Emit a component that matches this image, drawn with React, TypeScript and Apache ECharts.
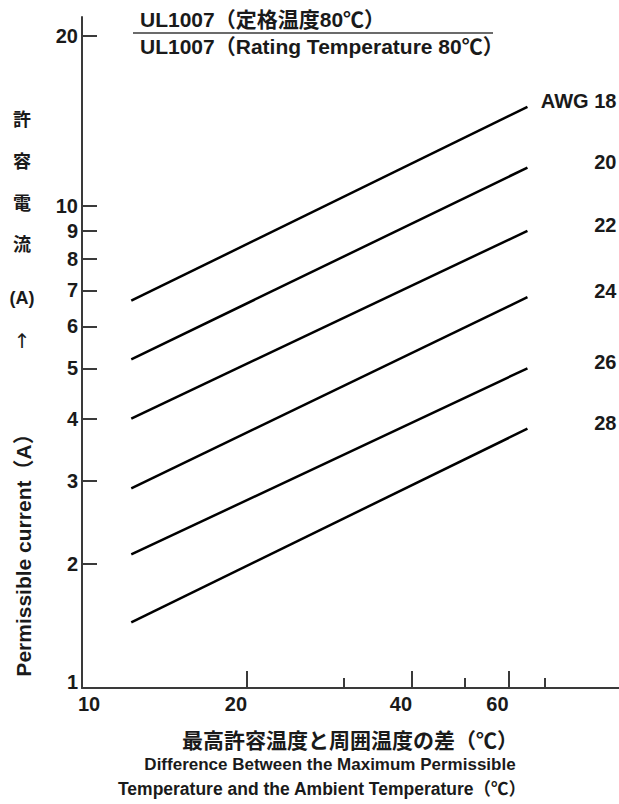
import React, { useEffect, useRef } from "react";
import * as echarts from "echarts";

// ---- data ----
const awgNames = ["AWG 18", "20", "22", "24", "26", "28"];
const tempDiffStart = 12.3; // °C
const tempDiffEnd = 65; // °C
const currentAtStart = [6.7, 5.2, 4.0, 2.9, 2.1, 1.47]; // A
const currentAtEnd = [15.0, 11.7, 9.0, 6.8, 5.0, 3.82]; // A
const yTickValues = [1, 2, 3, 4, 5, 6, 7, 8, 9, 10, 20];
const xMajorTicks = [20, 40, 60];
const xMinorTicks = [30, 50, 70];
const xLabelValues = [10, 20, 40, 60];

// The printed current axis is a shifted logarithmic scale
const SHIFT = 0.6;
const fy = (v: number) => Math.log10(v + SHIFT);
const invFy = (t: number) => Math.pow(10, t) - SHIFT;

const FONT = "'Liberation Sans', 'Noto Sans CJK JP', sans-serif";
const TXT = "#1a1a1a";
const AXIS = "#3a3a3a";

export default function App() {
  const ref = useRef<HTMLDivElement>(null);
  useEffect(() => {
    if (!ref.current) return;
    const chart = echarts.init(ref.current, null, { renderer: "svg" });

    const series = awgNames.map((name, i) => ({
      type: "line",
      name,
      xAxisIndex: 0,
      yAxisIndex: 0,
      symbol: "none",
      silent: true,
      lineStyle: { color: "#000", width: 2.5 },
      data: [
        [tempDiffStart, fy(currentAtStart[i])],
        [tempDiffEnd, fy(currentAtEnd[i])],
      ],
      endLabel: {
        show: true,
        distance: 12,
        offset: [0, -6],
        formatter: () => `{n|${name}}`,
        rich: {
          n: {
            width: 77,
            align: "right",
            fontSize: 20,
            fontWeight: "bold",
            fontFamily: FONT,
            color: TXT,
          },
        },
      },
    }));

    const leftChars = [
      { t: "許", y: 120 },
      { t: "容", y: 162 },
      { t: "電", y: 204 },
      { t: "流", y: 245 },
      { t: "(A)", y: 298 },
    ];

    const baseX = {
      type: "log",
      logBase: 10,
      min: 10,
      max: 95.5,
      position: "bottom",
      splitLine: { show: false },
      minorTick: { show: false },
      minorSplitLine: { show: false },
    };

    chart.setOption({
      animation: false,
      backgroundColor: "#fff",
      grid: { left: 82, right: 0, top: 17, bottom: 116, containLabel: false },
      xAxis: [
        {
          ...baseX,
          axisLine: { show: true, lineStyle: { color: AXIS, width: 2 } },
          axisTick: {
            show: true,
            inside: true,
            length: 17,
            customValues: xMajorTicks,
            lineStyle: { color: AXIS, width: 2 },
          },
          axisLabel: {
            show: true,
            customValues: xLabelValues,
            margin: 6,
            formatter: (v: number) => {
              const n = Math.round(v);
              return n === 10 ? `{l|${n}}` : `{r|${n}}`;
            },
            rich: {
              l: { padding: [0, 0, 0, 14], fontSize: 20, fontWeight: "bold", fontFamily: FONT, color: TXT },
              r: { padding: [0, 22, 0, 0], fontSize: 20, fontWeight: "bold", fontFamily: FONT, color: TXT },
            },
          },
        },
        {
          ...baseX,
          axisLine: { show: false },
          axisTick: {
            show: true,
            inside: true,
            length: 10,
            customValues: xMinorTicks,
            lineStyle: { color: AXIS, width: 2 },
          },
          axisLabel: { show: false },
        },
      ],
      yAxis: {
        type: "value",
        min: fy(1),
        max: 1.3462,
        splitLine: { show: false },
        axisLine: { show: true, lineStyle: { color: AXIS, width: 2 } },
        axisTick: {
          show: true,
          inside: true,
          length: 15,
          customValues: yTickValues.map(fy),
          lineStyle: { color: AXIS, width: 2 },
        },
        axisLabel: {
          show: true,
          customValues: yTickValues.map(fy),
          margin: 4,
          formatter: (v: number) => {
            const n = Math.round(invFy(v));
            return n === 1 ? `{b|${n}}` : `{a|${n}}`;
          },
          rich: {
            a: { fontSize: 20, fontWeight: "bold", fontFamily: FONT, color: TXT },
            b: { padding: [0, 0, 12, 0], fontSize: 20, fontWeight: "bold", fontFamily: FONT, color: TXT },
          },
        },
      },
      series,
      graphic: [
        {
          type: "text",
          left: 140,
          top: 9,
          style: {
            text: "UL1007（定格温度80℃）",
            font: `bold 21px ${FONT}`,
            fill: TXT,
          },
        },
        {
          type: "line",
          shape: { x1: 133, y1: 33, x2: 493, y2: 33 },
          style: { stroke: AXIS, lineWidth: 1.5 },
        },
        {
          type: "text",
          left: 140,
          top: 36,
          style: {
            text: "UL1007（Rating Temperature 80℃）",
            font: `bold 21px ${FONT}`,
            fill: TXT,
          },
        },
        ...leftChars.map((c) => ({
          type: "text",
          x: 22,
          y: c.y,
          style: {
            text: c.t,
            font: `bold 18px ${FONT}`,
            fill: TXT,
            align: "center",
            verticalAlign: "middle",
          },
        })),
        {
          type: "text",
          x: 22,
          y: 341,
          style: {
            text: "↑",
            font: `20px 'DejaVu Sans'`,
            fill: TXT,
            align: "center",
            verticalAlign: "middle",
          },
        },
        {
          type: "text",
          x: 23,
          y: 550,
          rotation: Math.PI / 2,
          style: {
            text: "Permissible current（A）",
            font: `bold 21px ${FONT}`,
            fill: TXT,
            align: "center",
            verticalAlign: "middle",
          },
        },
        {
          type: "text",
          x: 350,
          y: 740,
          style: {
            text: "最高許容温度と周囲温度の差（℃）",
            font: `bold 21px ${FONT}`,
            fill: TXT,
            align: "center",
            verticalAlign: "middle",
          },
        },
        {
          type: "text",
          x: 330,
          y: 764,
          style: {
            text: "Difference Between the Maximum Permissible",
            font: `bold 17px ${FONT}`,
            fill: TXT,
            align: "center",
            verticalAlign: "middle",
          },
        },
        {
          type: "text",
          x: 322,
          y: 789,
          style: {
            text: "Temperature and the Ambient Temperature（℃）",
            font: `bold 17.5px ${FONT}`,
            fill: TXT,
            align: "center",
            verticalAlign: "middle",
          },
        },
      ],
    });

    return () => chart.dispose();
  }, []);

  return (
    <div
      ref={ref}
      style={{ position: "absolute", left: 0, top: 0, width: 619, height: 804 }}
    />
  );
}
